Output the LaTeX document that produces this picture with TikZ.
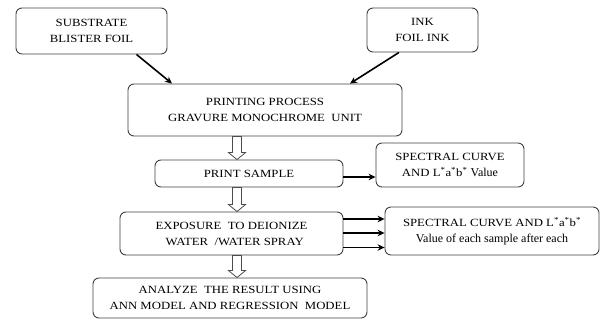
\documentclass[tikz,border=0pt]{standalone}
\usepackage{fontspec}
\setmainfont{Liberation Serif}
\newfontfamily\capsfont[FakeStretch=1.16]{Liberation Serif}
\usetikzlibrary{calc,arrows.meta}
\newcommand{\lowtxt}[1]{{\rmfamily\fontsize{12}{16}\selectfont #1}}
\begin{document}
\begin{tikzpicture}[x=1pt,y=-1pt,
  box/.style={draw=black!75, line width=0.9pt, rounded corners=6pt, align=center,
    inner sep=0pt, font=\capsfont\fontsize{11}{16}\selectfont},
  arr/.style={-{Stealth[length=7pt,width=6.5pt]}, line width=1.6pt, black},
  hollow/.style={draw=black!70, line width=0.8pt, fill=white,
    to path={let \p1=(\tikztostart), \p2=(\tikztotarget) in
      (\x1-4.5pt,\y1) -- (\x1+4.5pt,\y1) -- (\x1+4.5pt,\y2+7pt) -- (\x1+8.5pt,\y2+7pt)
      -- (\x1,\y2) -- (\x1-8.5pt,\y2+7pt) -- (\x1-4.5pt,\y2+7pt) -- cycle}}
]
\useasboundingbox (0,0) rectangle (601,320);
\node[box, minimum width=151pt, minimum height=46pt] (sub) at (91.5,31) {SUBSTRATE\\BLISTER FOIL};
\node[box, minimum width=111pt, minimum height=44pt] (ink) at (422.5,30) {INK\\FOIL INK};
\node[box, minimum width=274pt, minimum height=52pt] (proc) at (265,110) {PRINTING PROCESS\\GRAVURE MONOCHROME~ UNIT};
\node[box, minimum width=188pt, minimum height=27pt] (ps) at (249,173.5) {PRINT SAMPLE};
\node[box, minimum width=223pt, minimum height=43pt] (exp) at (231.5,233.5) {EXPOSURE~ TO DEIONIZE\\~~WATER~ /WATER SPRAY};
\node[box, minimum width=274pt, minimum height=40pt] (ana) at (230,298) {ANALYZE~ THE RESULT USING\\ANN MODEL AND REGRESSION~ MODEL};
\node[box, minimum width=148pt, minimum height=44pt] (sp1) at (450,165) {SPECTRAL CURVE\\AND L\textsuperscript{*}a\textsuperscript{*}b\textsuperscript{*} \lowtxt{Value}};
\node[box, minimum width=214pt, minimum height=48pt] (sp2) at (492,231) {SPECTRAL CURVE AND L\textsuperscript{*}a\textsuperscript{*}b\textsuperscript{*}\\\lowtxt{Value of each sample after each}};

\draw[arr] ([xshift=45pt]sub.south) -- ([xshift=-93pt]proc.north);
\draw[arr] ([xshift=-23.5pt]ink.south) -- ([xshift=85pt]proc.north);

\coordinate (hx) at (237,0);
\draw[hollow] (proc.south -| hx) to (ps.north -| hx);
\draw[hollow] (ps.south -| hx) to (exp.north -| hx);
\draw[hollow] (exp.south -| hx) to (ana.north -| hx);

\draw[arr] ([yshift=-3.5pt]ps.east) -- ([yshift=-3.5pt]ps.east -| sp1.west);
\draw[arr] ([yshift=-14pt]exp.east) -- ([yshift=-14pt]exp.east -| sp2.west);
\draw[arr] ([yshift=0.5pt]exp.east) -- ([yshift=0.5pt]exp.east -| sp2.west);
\draw[arr] ([yshift=14.5pt]exp.east) -- ([yshift=14.5pt]exp.east -| sp2.west);
\end{tikzpicture}
\end{document}
